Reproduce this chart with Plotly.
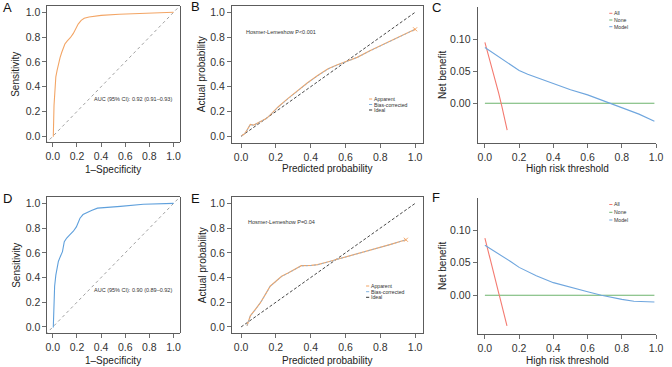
import plotly.graph_objects as go

W, H = 672, 367

# ---------------- data ----------------
# Panel A: ROC (training)
roc_a_fpr = [0, 0.004, 0.010, 0.016, 0.025, 0.035, 0.047, 0.06, 0.075, 0.09, 0.10, 0.12, 0.145, 0.17, 0.19, 0.21, 0.235, 0.26, 0.30, 0.40, 0.55, 0.70, 0.85, 1.0]
roc_a_tpr = [0, 0.0, 0.25, 0.40, 0.48, 0.53, 0.59, 0.635, 0.68, 0.72, 0.745, 0.77, 0.795, 0.83, 0.865, 0.905, 0.935, 0.952, 0.962, 0.975, 0.984, 0.99, 0.995, 1.0]
auc_a_text = "AUC (95% CI): 0.92 (0.91–0.93)"

# Panel D: ROC (validation)
roc_d_fpr = [0, 0.004, 0.008, 0.015, 0.025, 0.035, 0.046, 0.06, 0.08, 0.095, 0.115, 0.14, 0.17, 0.195, 0.21, 0.225, 0.25, 0.28, 0.32, 0.37, 0.45, 0.56, 0.75, 1.0]
roc_d_tpr = [0, 0.0, 0.12, 0.33, 0.42, 0.47, 0.53, 0.565, 0.61, 0.69, 0.72, 0.745, 0.775, 0.81, 0.845, 0.88, 0.91, 0.925, 0.943, 0.962, 0.97, 0.976, 0.993, 1.0]
auc_d_text = "AUC (95% CI): 0.90 (0.89–0.92)"

# Panel B: calibration (training)
cal_b_pred = [0, 0.02, 0.034, 0.053, 0.072, 0.11, 0.147, 0.176, 0.214, 0.27, 0.327, 0.38, 0.44, 0.50, 0.55, 0.60, 0.667, 0.74, 0.82, 0.90, 1.0]
cal_b_app = [0, 0.02, 0.05, 0.095, 0.09, 0.118, 0.145, 0.185, 0.239, 0.306, 0.373, 0.43, 0.49, 0.545, 0.575, 0.60, 0.637, 0.69, 0.742, 0.795, 0.863]
cal_b_bc = [0, 0.02, 0.05, 0.093, 0.089, 0.117, 0.144, 0.183, 0.237, 0.303, 0.370, 0.427, 0.487, 0.542, 0.573, 0.598, 0.635, 0.688, 0.740, 0.794, 0.862]
hl_b_text = "Hosmer-Lemeshow P<0.001"

# Panel E: calibration (validation)
cal_e_pred = [0.034, 0.044, 0.053, 0.081, 0.11, 0.138, 0.167, 0.195, 0.233, 0.27, 0.308, 0.346, 0.403, 0.44, 0.497, 0.544, 0.60, 0.667, 0.75, 0.85, 0.947]
cal_e_app = [0.01, 0.045, 0.09, 0.14, 0.194, 0.26, 0.33, 0.364, 0.41, 0.437, 0.464, 0.496, 0.498, 0.504, 0.526, 0.544, 0.565, 0.59, 0.625, 0.665, 0.706]
cal_e_bc = [0.01, 0.044, 0.088, 0.139, 0.193, 0.258, 0.328, 0.362, 0.408, 0.435, 0.462, 0.494, 0.497, 0.503, 0.525, 0.543, 0.564, 0.589, 0.624, 0.664, 0.705]
hl_e_text = "Hosmer-Lemeshow P=0.04"

ideal = [0, 1]

# Panel C: decision curve (training)
dca_c_all_x = [0, 0.02, 0.05, 0.08, 0.10, 0.13]
dca_c_all_y = [0.095, 0.076, 0.047, 0.016, -0.006, -0.042]
dca_c_model_x = [0, 0.05, 0.10, 0.15, 0.20, 0.25, 0.30, 0.40, 0.50, 0.60, 0.70, 0.75, 0.80, 0.90, 0.99]
dca_c_model_y = [0.087, 0.078, 0.070, 0.060, 0.051, 0.045, 0.040, 0.030, 0.021, 0.013, 0.003, -0.002, -0.007, -0.017, -0.028]

# Panel F: decision curve (validation)
dca_f_all_x = [0, 0.05, 0.087, 0.129]
dca_f_all_y = [0.088, 0.037, 0.0, -0.047]
dca_f_model_x = [0, 0.05, 0.10, 0.15, 0.20, 0.25, 0.30, 0.40, 0.50, 0.60, 0.68, 0.75, 0.80, 0.87, 0.93, 0.99]
dca_f_model_y = [0.077, 0.069, 0.061, 0.052, 0.043, 0.036, 0.030, 0.0195, 0.012, 0.0056, 0.0, -0.004, -0.0062, -0.0092, -0.0101, -0.0103]

none_x = [0, 0.99]
none_y = [0, 0]

ticks01 = [0, 0.2, 0.4, 0.6, 0.8, 1.0]
ticks01_text = ["0.0", "0.2", "0.4", "0.6", "0.8", "1.0"]
ticks_nb = [0, 0.05, 0.10]

# ---------------- styling ----------------
FONT = "Liberation Sans, Arial, Helvetica, sans-serif"
AX = "#4a4a4a"
ORANGE = "#F3A565"
BLUE = "#5FA0DC"
CAL_BLUE = "#7FB2E0"
RED = "#F47A70"
GREEN = "#6DB36D"
MODEL_BLUE = "#6FA6DE"

def px(x):
    return x / W

def py(y):
    return 1 - y / H

fig = go.Figure()

panels = [
    dict(k="", xp=(46, 180), yp=(6, 142), xr=[-0.045, 1.05], yr=[-0.046, 1.051], box=True, yt=ticks01, fmt=".1f"),
    dict(k="2", xp=(233, 427), yp=(6, 143), xr=[-0.053, 1.047], yr=[-0.054, 1.051], box=True, yt=ticks01, fmt=".1f"),
    dict(k="3", xp=(482, 663), yp=(7, 143), xr=[-0.043, 1.0], yr=[-0.062, 0.150], box=False, yt=ticks_nb, fmt=".2f"),
    dict(k="4", xp=(46, 180), yp=(197, 333), xr=[-0.045, 1.05], yr=[-0.049, 1.052], box=True, yt=ticks01, fmt=".1f"),
    dict(k="5", xp=(233, 427), yp=(197, 333), xr=[-0.053, 1.047], yr=[-0.049, 1.052], box=True, yt=ticks01, fmt=".1f"),
    dict(k="6", xp=(482, 663), yp=(198, 334), xr=[-0.043, 1.0], yr=[-0.0595, 0.1497], box=False, yt=ticks_nb, fmt=".2f"),
]

layout_axes = {}
for p in panels:
    k = p["k"]
    common = dict(
        showgrid=False, zeroline=False, showline=True, linecolor=AX, linewidth=0.9,
        ticks="outside", ticklen=4, tickwidth=0.8, tickcolor=AX,
        tickfont=dict(family=FONT, size=10.5, color="#333"),
        mirror=p["box"], fixedrange=True,
    )
    layout_axes["xaxis" + k] = dict(
        common, domain=[px(p["xp"][0]), px(p["xp"][1])], range=p["xr"],
        tickvals=ticks01, ticktext=ticks01_text, anchor="y" + k,
    )
    layout_axes["yaxis" + k] = dict(
        common, domain=[py(p["yp"][1]), py(p["yp"][0])], range=p["yr"],
        tickvals=p["yt"], tickformat=p["fmt"], anchor="x" + k,
    )

def add(x, y, k, color, width=1.0, dash="solid"):
    fig.add_trace(go.Scatter(
        x=x, y=y, mode="lines", xaxis="x" + k, yaxis="y" + k,
        line=dict(color=color, width=width, dash=dash), showlegend=False,
        hoverinfo="skip",
    ))

# A
add([-0.06, 1.06], [-0.06, 1.06], "", "#777", 0.7, "dot")
add(roc_a_fpr, roc_a_tpr, "", ORANGE, 1.1)
# D
add([-0.06, 1.06], [-0.06, 1.06], "4", "#777", 0.7, "dot")
add(roc_d_fpr, roc_d_tpr, "4", BLUE, 1.1)
# B
add(ideal, ideal, "2", "#333", 0.9, "3px,2px")
add(cal_b_pred, cal_b_app, "2", ORANGE, 1.2)
add(cal_b_pred, cal_b_bc, "2", CAL_BLUE, 0.8, "2px,2px")
fig.add_trace(go.Scatter(x=[cal_b_pred[-1]], y=[cal_b_app[-1]], mode="markers", xaxis="x2", yaxis="y2",
                         marker=dict(symbol="x-thin", size=4, line=dict(color=ORANGE, width=1)),
                         showlegend=False, hoverinfo="skip"))
# E
add(ideal, ideal, "5", "#333", 0.9, "3px,2px")
add(cal_e_pred, cal_e_app, "5", ORANGE, 1.2)
add(cal_e_pred, cal_e_bc, "5", CAL_BLUE, 0.8, "2px,2px")
fig.add_trace(go.Scatter(x=[cal_e_pred[-1]], y=[cal_e_app[-1]], mode="markers", xaxis="x5", yaxis="y5",
                         marker=dict(symbol="x-thin", size=4, line=dict(color=ORANGE, width=1)),
                         showlegend=False, hoverinfo="skip"))
# C
add(none_x, none_y, "3", GREEN, 1.1)
add(dca_c_all_x, dca_c_all_y, "3", RED, 1.1)
add(dca_c_model_x, dca_c_model_y, "3", MODEL_BLUE, 1.1)
# F
add(none_x, none_y, "6", GREEN, 1.1)
add(dca_f_all_x, dca_f_all_y, "6", RED, 1.1)
add(dca_f_model_x, dca_f_model_y, "6", MODEL_BLUE, 1.1)

annotations = []
shapes = []

def text(x, y, s, size, color="#222", angle=0, xanchor="center"):
    annotations.append(dict(
        x=px(x), y=py(y), xref="paper", yref="paper", text=s, showarrow=False,
        font=dict(family=FONT, size=size, color=color), textangle=angle,
        xanchor=xanchor, yanchor="middle", borderpad=0,
    ))

# panel letters
for s, x, y in [("A", 6, 8), ("B", 196, 7), ("C", 440, 8), ("D", 6, 198), ("E", 196, 198), ("F", 440, 197)]:
    text(x, y, s, 13, "#111")

# axis titles
for cx, cy in [(113, 169.5), (113, 360.5)]:
    text(cx, cy, "1–Specificity", 10)
for cx, cy in [(330, 168), (330, 360.5)]:
    text(cx, cy, "Predicted probability", 10)
for cx, cy in [(573, 168), (573, 360.5)]:
    text(cx, cy, "High risk threshold", 10)
for cx, cy in [(14, 74), (14, 265)]:
    text(cx, cy, "Sensitivity", 10, angle=-90)
for cx, cy in [(203, 74), (203, 265)]:
    text(cx, cy, "Actual probability", 10, angle=-90)
for cx, cy in [(446, 75), (446, 266)]:
    text(cx, cy, "Net benefit", 10, angle=-90)

# in-plot texts
text(133, 99.5, auc_a_text, 5.5, "#333")
text(133, 289.5, auc_d_text, 5.5, "#333")
text(283, 32, hl_b_text, 5.5, "#333")
text(283.5, 221.5, hl_e_text, 5.5, "#333")

def legend(x0, rows, size=5.2):
    for (y, label, color, dash) in rows:
        shapes.append(dict(type="line", xref="paper", yref="paper",
                           x0=px(x0), x1=px(x0 + 3.2), y0=py(y), y1=py(y),
                           line=dict(color=color, width=1, dash=dash)))
        text(x0 + 4.2, y, label, size, "#333", xanchor="left")

legend(372, [(99, "Apparent", ORANGE, "solid"), (104.5, "Bias-corrected", CAL_BLUE, "solid"), (110, "Ideal", "#333", "solid")])
legend(369, [(286, "Apparent", ORANGE, "solid"), (291.7, "Bias-corrected", CAL_BLUE, "solid"), (297.3, "Ideal", "#333", "solid")])
legend(615.5, [(13.3, "All", RED, "solid"), (20, "None", GREEN, "solid"), (26.7, "Model", MODEL_BLUE, "solid")])
legend(615.5, [(204.5, "All", RED, "solid"), (212.3, "None", GREEN, "solid"), (220, "Model", MODEL_BLUE, "solid")])

fig.update_layout(
    width=W, height=H, margin=dict(l=0, r=0, t=0, b=0),
    paper_bgcolor="white", plot_bgcolor="white",
    annotations=annotations, shapes=shapes, showlegend=False,
    **layout_axes,
)

fig.write_html(
    "out.html",
    config={"displayModeBar": False, "staticPlot": True},
    post_script="document.body.style.margin='0';document.body.style.padding='0';document.body.style.overflow='hidden';",
)
